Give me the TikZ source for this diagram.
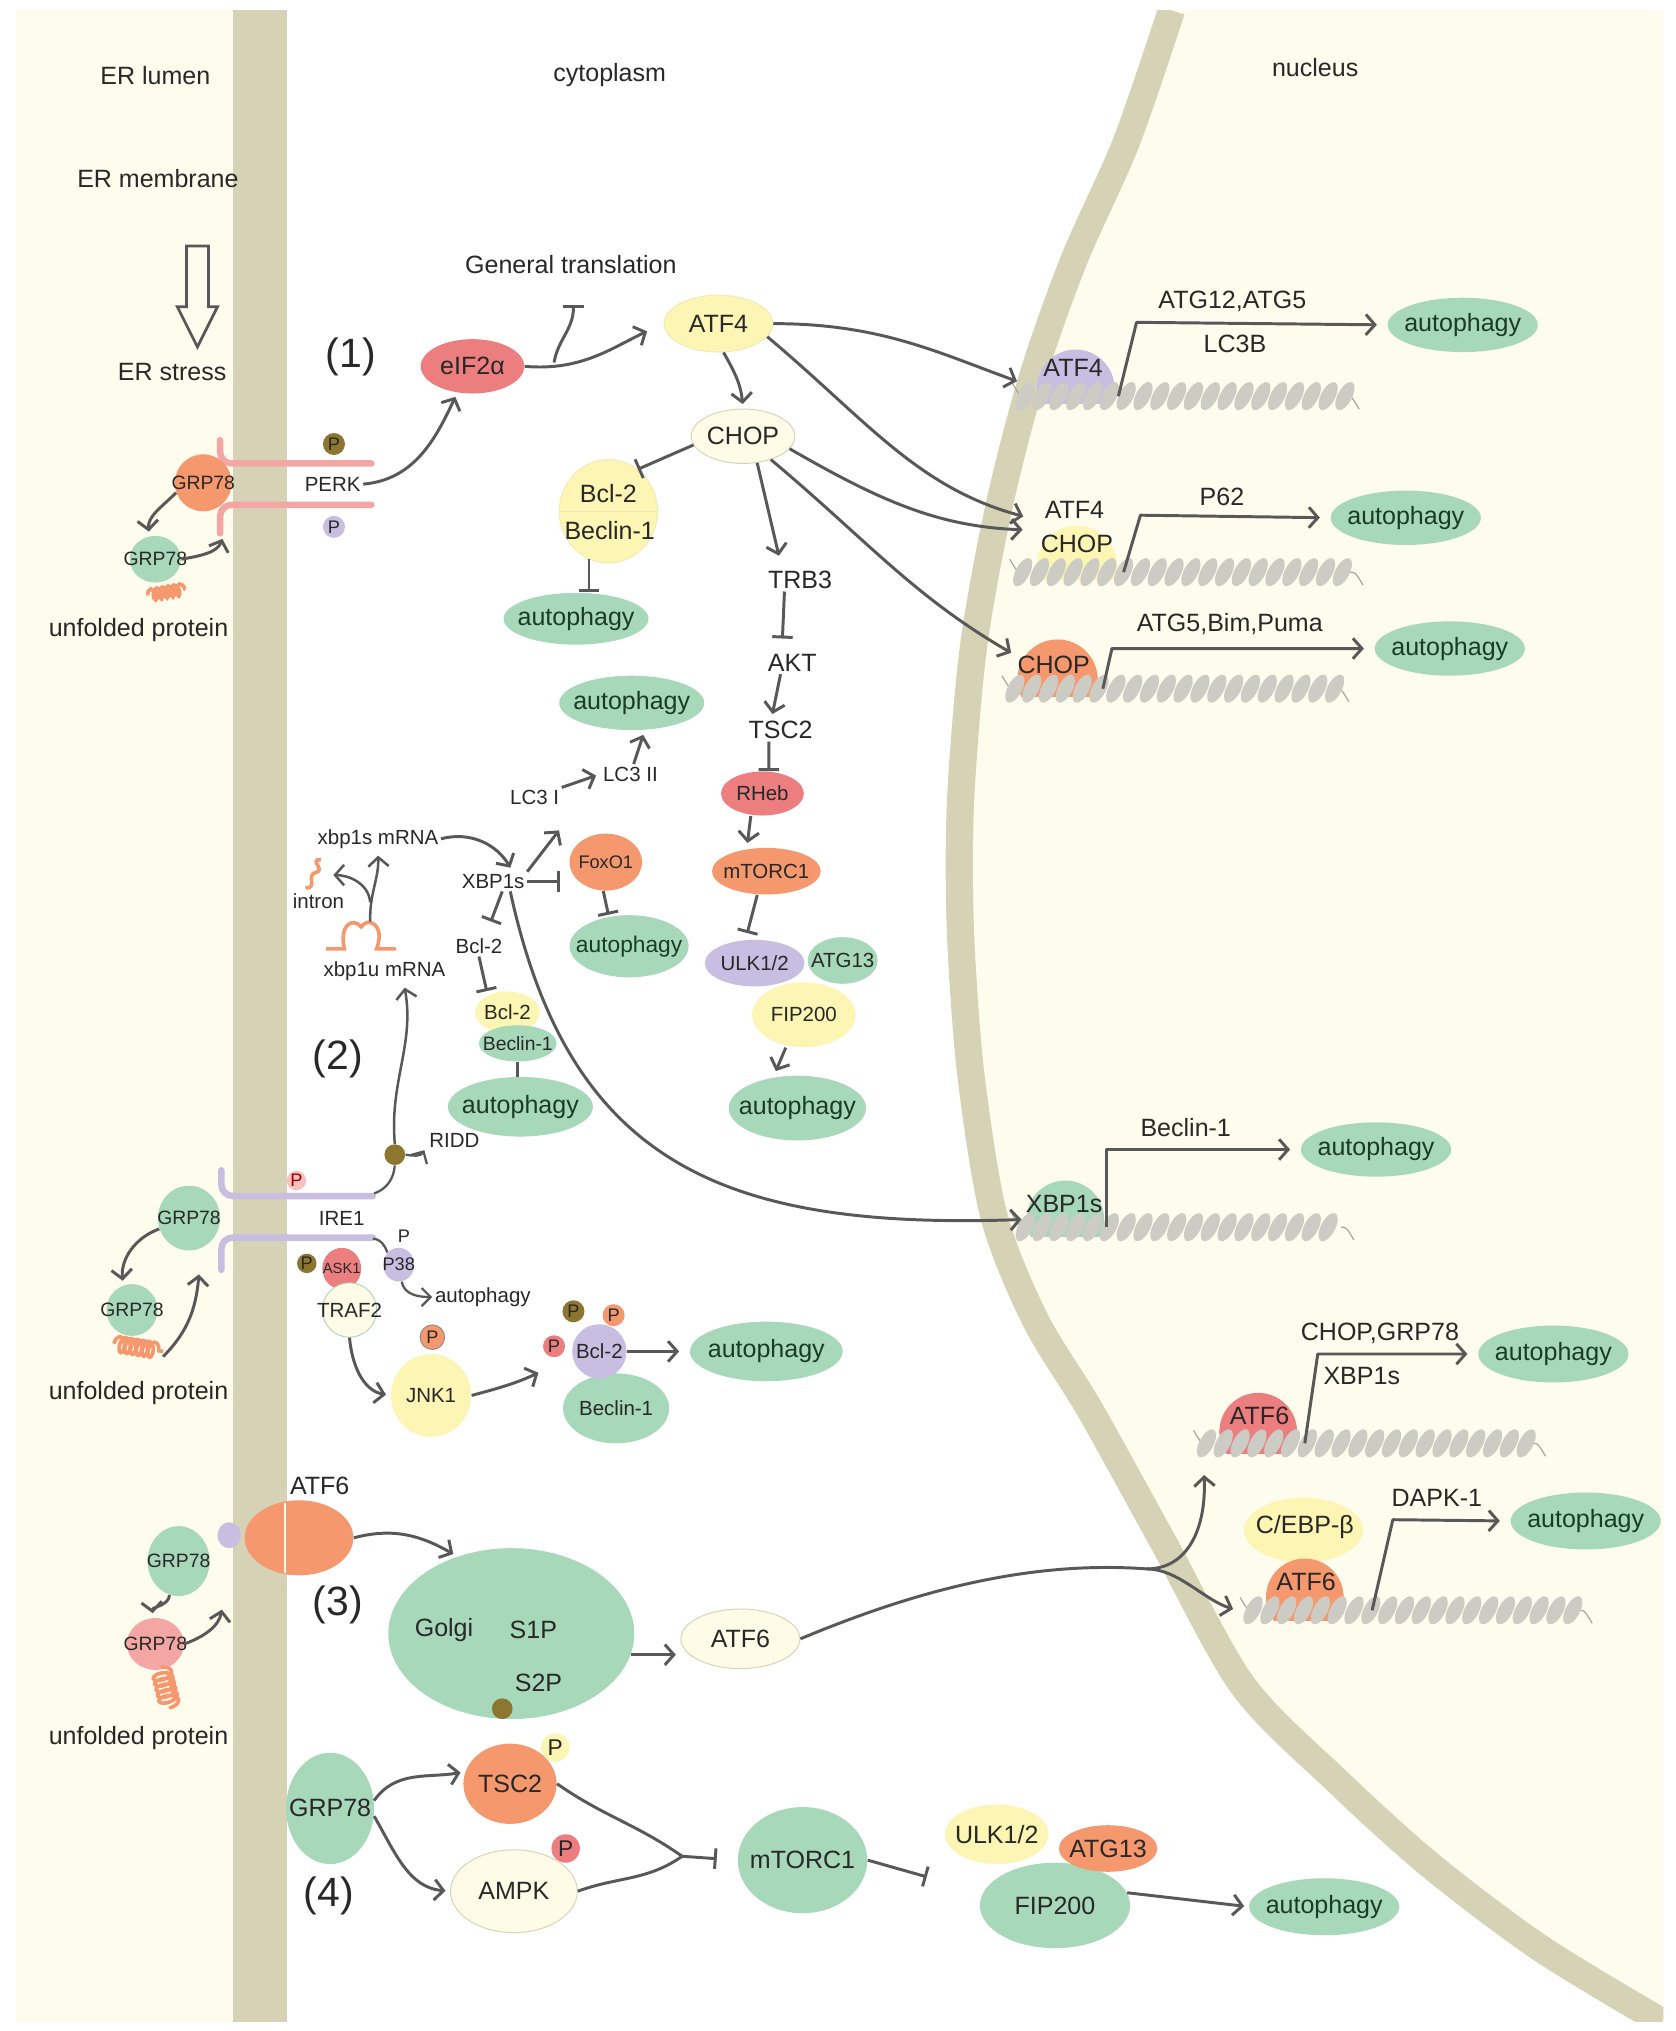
\documentclass[tikz,border=0pt]{standalone}
\usepackage{fontspec}
\setmainfont{Liberation Sans}
\usetikzlibrary{arrows.meta,positioning,decorations.pathmorphing,shapes.geometric}

\definecolor{lumen}{RGB}{254,252,236}
\definecolor{membr}{RGB}{214,210,182}
\definecolor{mint}{RGB}{168,216,186}
\definecolor{salmon}{RGB}{245,152,110}
\definecolor{rose}{RGB}{236,126,128}
\definecolor{blush}{RGB}{244,166,164}
\definecolor{lemon}{RGB}{253,245,180}
\definecolor{creamy}{RGB}{254,251,230}
\definecolor{lilac}{RGB}{200,190,226}
\definecolor{olivep}{RGB}{140,118,48}
\definecolor{ink}{RGB}{88,88,88}
\definecolor{txt}{RGB}{40,40,40}
\definecolor{leaf}{RGB}{25,60,38}
\definecolor{dna}{RGB}{204,203,196}

\newcommand{\fsz}[1]{\fontsize{#1}{#1}\selectfont}
% one strand of DNA: first x, last x, y
\newcommand{\dnarow}[3]{%
  \draw[dna!80!black, line width=0.5pt] (#1-10,#3-10) .. controls (#1-4,#3) .. (#1,#3) (#2,#3) .. controls (#2+4,#3) .. (#2+10,#3+10);
  \foreach \xx in {#1,...,#2}{%
    \pgfmathparse{mod(\xx-#1,13)==0}%
    \ifnum\pgfmathresult=1 \fill[dna] (\xx,#3) ellipse [x radius=0.11cm, y radius=0.24cm, rotate=-28];\fi}%
}

\tikzset{
  lbl/.style={font=\fsz{11}, text=txt, inner sep=1pt},
  sml/.style={font=\fsz{9}, text=txt, inner sep=1pt},
  num/.style={font=\fsz{18}, text=txt},
  wh/.style 2 args={minimum width=#1*0.02cm, minimum height=#2*0.02cm},
  blob/.style={ellipse, inner sep=-6pt, font=\fsz{9}, text=txt},
  autoph/.style={blob, fill=mint, font=\fsz{11}, text=leaf},
  pdot/.style={circle, inner sep=0pt, minimum size=0.34cm, font=\fsz{8}, text=txt},
  arr/.style={draw=ink, line width=1.3pt, shorten >=2pt, -{Straight Barb[length=4pt,width=9pt]}},
  arrs/.style={draw=ink, line width=1pt, -{Straight Barb[length=4pt,width=8pt]}},
  inh/.style={draw=ink, line width=1.3pt, -{Bar[width=9pt]}},
  link/.style={draw=ink, line width=1.3pt},
  prom/.style={arr, shorten >=0.16cm, line join=round},
  unf/.style={draw=salmon, line width=1.6pt},
  curl/.style={unf, decorate, decoration={coil, amplitude=#1, segment length=0.09cm}},
  recep/.style={line width=0.1cm, line cap=round},
}

\begin{document}
\begin{tikzpicture}[x=0.02cm,y=-0.02cm]
\useasboundingbox (0,0) rectangle (1294,1569);
\fill[white] (0,0) rectangle (1294,1569);

% compartments
\begin{scope}
  \clip (12,8) rectangle (1285,1562);
  \fill[lumen] (12,8) rectangle (180,1562);
  \fill[membr] (180,8) rectangle (222,1562);
  \fill[lumen] plot[smooth] coordinates {(905,8) (870,110) (830,200) (798,290) (772,390) (752,500) (742,620) (742,720) (750,830) (768,940) (800,1020) (842,1089) (899,1192) (960,1302) (1032,1375) (1105,1441) (1190,1505) (1284,1562)} -- (1285,1562) -- (1285,8) -- cycle;
  \draw[membr, line width=0.42cm] plot[smooth] coordinates {(905,8) (870,110) (830,200) (798,290) (772,390) (752,500) (742,620) (742,720) (750,830) (768,940) (800,1020) (842,1089) (899,1192) (960,1302) (1032,1375) (1105,1441) (1190,1505) (1284,1562)};
\end{scope}

\node[lbl] (lumenl) at (120,58) {ER lumen};
\node[lbl] (cytol) at (471,58) {cytoplasm};
\node[lbl] (nucl) at (1016,52) {nucleus};
\node[lbl] (ermem) at (122,138) {ER membrane};
\node[lbl] (erstr) at (133,287) {ER stress};
\draw[ink, line width=1.2pt] (144,190) -- (161,190) -- (161,237) -- (168,237)
      -- (152.5,268) -- (137,237) -- (144,237) -- cycle;

% (1) PERK
\node[num] (n1) at (271,276) {(1)};
\draw[recep, draw=blush] (170,340) -- (170,349) to[out=-90,in=180] (179,358) -- (287,358);
\draw[recep, draw=blush] (287,390) -- (179,390) to[out=180,in=90] (170,399) -- (170,412);
\node[sml] (perk) at (257,374) {PERK};
\node[pdot, fill=olivep] (perkp1) at (258,343) {P};
\node[pdot, fill=lilac] (perkp2) at (258,407) {P};
\node[blob, fill=salmon, wh={44}{44}, font=\fsz{8.5}] (g1a) at (157,373) {GRP78};
\node[blob, fill=mint, wh={36}{36}, font=\fsz{8.5}] (g1b) at (120,432) {GRP78};
\coordinate (perkin) at (173,413);
\draw[curl=0.09cm] (114,460) -- (143,455);
\node[lbl] (unf1l) at (107,487) {unfolded protein};
\draw[arr] (g1a.200) to[out=225,in=95] (g1b.105);
\draw[arr] (g1b.east) to[out=10,in=-110] (perkin);

\node[blob, fill=rose, wh={80}{42}, font=\fsz{11}] (eif) at (365,283) {eIF2α};
\draw[arr] (perk.east) to[out=5,in=-115] (eif.240);
\node[lbl] (gentr) at (441,204) {General translation};
\node[blob, fill=lemon, draw=lemon!70!membr, wh={84}{44}, font=\fsz{11}] (atf4) at (555,250) {ATF4};
\draw[arr, shorten >=8pt] (eif.east) to[out=-5,in=205] (atf4.west);
\coordinate (eifmid) at (428,280);
\coordinate (gtbar) at (443,236);
\draw[inh] (eifmid) to[out=80,in=-90] (gtbar);

\node[blob, fill=creamy, draw=membr, wh={80}{42}, font=\fsz{11}] (chop) at (574,337) {CHOP};
\draw[arr] (atf4.-80) to[out=-60,in=95] (chop.north);
\node[blob, fill=lemon, draw=lemon!70!membr, wh={76}{80}] (bcl1) at (470,395) {};
\draw[lemon!60!membr] (bcl1.west) -- (bcl1.east);
\node[lbl] (bcl1t) at (470,381) {Bcl-2};
\node[lbl] (becl1t) at (471,410) {Beclin-1};
\draw[inh] (chop.190) -- (bcl1.55);
\node[autoph, wh={112}{40}] (aut1) at (445,478) {autophagy};
\draw[inh] (bcl1.-112) -- (bcl1.-112 |- aut1.north);

\node[lbl] (trb3) at (618,448) {TRB3};
\draw[arr, shorten >=0.2cm] (chop.-62) -- ([xshift=-0.28cm]trb3.north);
\node[lbl] (akt) at (612,512) {AKT};
\draw[inh, shorten >=0.2cm] ([xshift=-0.24cm]trb3.south) -- ([xshift=-0.16cm]akt.north);
\node[lbl] (tsc2a) at (603,564) {TSC2};
\draw[arr] ([xshift=-0.18cm]akt.south) -- ([xshift=-0.14cm]tsc2a.north);
\node[blob, fill=rose, wh={64}{34}] (rheb) at (589,613) {RHeb};
\draw[inh] ([xshift=-0.18cm]tsc2a.south) -- ([xshift=0.1cm]rheb.north);
\node[blob, fill=salmon, wh={84}{36}] (mtor1) at (592,673) {mTORC1};
\draw[arr] ([xshift=-0.18cm]rheb.south) -- ([xshift=-0.3cm]mtor1.north);
\node[blob, fill=lemon, wh={80}{50}] (fip1) at (621,784) {FIP200};
\node[blob, fill=lilac, wh={77}{36}] (ulk1) at (583,744) {ULK1/2};
\node[blob, fill=mint, wh={54}{36}] (atg13a) at (651,742) {ATG13};
\draw[inh, shorten >=0.1cm] ([xshift=-0.14cm]mtor1.south) -- ([xshift=-0.14cm]ulk1.north);
\node[autoph, wh={106}{50}] (aut2) at (616,856) {autophagy};
\draw[arr] ([xshift=-0.28cm]fip1.south) -- ([xshift=-0.36cm]aut2.north);

% nucleus, PERK targets
\begin{scope}
  \clip (760,200) rectangle (900,312);
  \node[blob, fill=lilac, wh={60}{60}] (tf1) at (831,300) {};
\end{scope}
\node[lbl] (tf1t) at (829,284) {ATF4};
\dnarow{792}{1040}{306}
\node[autoph, wh={116}{42}] (an1) at (1130,251) {autophagy};
\node[lbl] (gl1) at (952,233) {ATG12,ATG5};
\node[lbl] (gl1b) at (954,266) {LC3B};
\coordinate (pr1) at (864,306);
\draw[prom] (pr1) -- ++(14,-57) -- (an1.west);

\begin{scope}
  \clip (760,380) rectangle (900,448);
  \node[blob, fill=lemon, wh={62}{62}] (tf2) at (832,437) {};
\end{scope}
\node[lbl] (tf2a) at (830,394) {ATF4};
\node[lbl] (tf2t) at (832,420) {CHOP};
\dnarow{790}{1043}{442}
\node[autoph, wh={116}{42}] (an2) at (1086,400) {autophagy};
\node[lbl] (gl2) at (944,384) {P62};
\coordinate (pr2) at (868,442);
\draw[prom] (pr2) -- ++(13,-44) -- (an2.west);

\begin{scope}
  \clip (740,480) rectangle (900,538);
  \node[blob, fill=salmon, wh={62}{62}] (tf3) at (817,525) {};
\end{scope}
\node[lbl] (tf3t) at (814,514) {CHOP};
\dnarow{784}{1032}{532}
\node[autoph, wh={116}{42}] (an3) at (1120,501) {autophagy};
\node[lbl] (gl3) at (950,482) {ATG5,Bim,Puma};
\coordinate (pr3) at (852,532);
\draw[prom] (pr3) -- ++(7,-31) -- (an3.west);

\draw[arr, shorten >=0.32cm] (atf4.east) to[out=0,in=160] (tf1.west);
\draw[arr, shorten >=0.3cm] (atf4.-15) to[out=-40,in=165] (tf2a.south west);
\draw[arr, shorten >=0.3cm] (chop.-15) to[out=-30,in=178] ([yshift=-0.14cm]tf2a.south west);
\draw[arr, shorten >=0.2cm] (chop.-40) to[out=-40,in=150] (tf3.150);

% (2) IRE1
\node[num] (n2) at (261,818) {(2)};
\draw[recep, draw=lilac] (171,904) -- (171,915) to[out=-90,in=180] (180,924) -- (288,924);
\draw[recep, draw=lilac] (288,956) -- (180,956) to[out=180,in=90] (171,965) -- (171,981);
\node[sml] (ire1) at (264,941) {IRE1};
\node[pdot, fill=blush!70, text=red!60!black, minimum size=0.3cm] (irep) at (229,912) {P};
\node[circle, fill=olivep, minimum size=0.32cm, inner sep=0pt] (olv) at (305,892) {};
\coordinate (ireup) at (289,922);
\draw[link, line width=1pt] (ireup) to[out=20,in=-95] (olv.south);
\node[sml] (ridd) at (351,881) {RIDD};
\draw[arrs] (olv.east) to[out=-10,in=-120] ([xshift=-1pt]ridd.south west);
\node[sml] (xbpu) at (297,750) {xbp1u mRNA};
\draw[arr, line width=1.1pt] (olv.north) to[out=95,in=-80] ([xshift=0.3cm]xbpu.south);
\draw[unf] (252,733) -- (266,733) .. controls (262,715) and (272,708) .. (279,716)
      .. controls (284,708) and (298,714) .. (291,733) -- (306,733);
\coordinate (mrna) at (286,712);
\node[sml] (xbps) at (292,648) {xbp1s mRNA};
\draw[arr, line width=1.1pt] (mrna) to[out=92,in=-88] (xbps.south);
\node[sml] (intron) at (246,696) {intron};
\draw[unf] (236,686) .. controls (246,686) and (236,676) .. (244,674)
      .. controls (252,672) and (238,664) .. (248,664);
\coordinate (intr) at (254,676);
\draw[arr, line width=1.1pt] ([yshift=0.3cm]mrna) to[out=95,in=0] (intr);

\node[sml] (xbp1) at (381,681) {XBP1s};
\draw[arr] (xbps.east) to[out=15,in=120] ([xshift=0.3cm]xbp1.north);
\node[sml] (lc3a) at (413,616) {LC3 I};
\node[sml] (lc3b) at (487,598) {LC3 II};
\draw[arr] (xbp1.north east) -- ([yshift=-0.3cm]lc3a.south east);
\draw[arr] (lc3a.north east) -- (lc3b.west);
\node[autoph, wh={112}{42}] (aut3) at (488,543) {autophagy};
\draw[arr] ([xshift=0.05cm]lc3b.north) -- ([xshift=0.2cm]aut3.south);
\node[blob, fill=salmon, wh={56}{44}, font=\fsz{8}] (foxo) at (468,666) {FoxO1};
\draw[inh, shorten >=0.14cm] (xbp1.east) -- (foxo.west |- xbp1.east);
\node[autoph, wh={92}{48}, font=\fsz{10}] (aut4) at (486,731) {autophagy};
\draw[inh] (foxo.-95) -- ([xshift=-0.32cm]aut4.north);
\node[sml] (bcl2t) at (370,731) {Bcl-2};
\draw[inh, shorten >=0.24cm] ([xshift=0.14cm]xbp1.south) -- ([xshift=0.1cm]bcl2t.north);
\node[blob, fill=lemon, wh={50}{32}] (bcl2b) at (392,782) {Bcl-2};
\draw[inh] (bcl2t.south) -- ([xshift=-0.32cm]bcl2b.north);
\node[blob, fill=mint, wh={60}{28}, font=\fsz{8.5}] (becl2) at (400,806) {Beclin-1};
\node[autoph, wh={112}{46}] (aut5) at (402,855) {autophagy};
\draw[link] (becl2.south) -- (aut5.north -| becl2.south);

\begin{scope}
  \clip (760,880) rectangle (900,955);
  \node[blob, fill=mint, wh={60}{60}] (tf4) at (823,942) {};
\end{scope}
\node[lbl] (tf4t) at (822,930) {XBP1s};
\dnarow{792}{1036}{948}
\node[autoph, wh={116}{42}] (an4) at (1063,888) {autophagy};
\node[lbl] (gl4) at (916,871) {Beclin-1};
\coordinate (pr4) at (855,948);
\draw[prom] (pr4) -- ++(0,-60) -- (an4.west);
\draw[arr] (xbp1.-30) .. controls (440,900) and (560,950) .. (tf4.west);

\node[blob, fill=mint, wh={48}{50}, font=\fsz{8.5}] (g2a) at (146,941) {GRP78};
\node[blob, fill=mint, wh={38}{40}, font=\fsz{8.5}] (g2b) at (102,1012) {GRP78};
\draw[arr] (g2a.200) to[out=200,in=95] (g2b.110);
\draw[curl=0.12cm] (88,1038) -- (126,1044);
\coordinate (unf2) at (126,1048);
\coordinate (irein) at (154,981);
\draw[arr] (unf2) to[out=45,in=-95] (irein);
\node[lbl] (unf2l) at (107,1076) {unfolded protein};

\node[blob, fill=rose, wh={30}{32}, font=\fsz{6.5}] (ask1) at (264,980) {ASK1};
\node[pdot, fill=olivep, minimum size=0.3cm] (askp) at (237,976) {P};
\node[blob, fill=lilac, wh={24}{26}, font=\fsz{8}] (p38) at (308,977) {P38};
\node[sml, font=\fsz{8}] (p38p) at (312,955) {P};
\coordinate (irelow) at (288,957);
\draw[link, line width=1pt] (irelow) to[out=0,in=110] (p38.north west);
\node[sml] (autsm) at (373,1002) {autophagy};
\draw[arrs] (p38.-80) to[out=-80,in=180] (autsm.west);
\node[blob, fill=creamy, draw=mint, wh={42}{42}] (traf2) at (270,1012) {TRAF2};
\node[blob, fill=lemon, wh={62}{64}] (jnk1) at (333,1078) {JNK1};
\node[pdot, fill=salmon, draw=ink!70, minimum size=0.38cm] (jnkp) at (334,1033) {P};
\draw[arr] (traf2.south) to[out=-85,in=170] (jnk1.west);
\node[blob, fill=mint, wh={82}{54}] (becl3) at (476,1088) {Beclin-1};
\node[blob, fill=lilac, wh={42}{42}] (bcl3) at (463,1044) {Bcl-2};
\node[pdot, fill=olivep] (bp1) at (443,1013) {P};
\node[pdot, fill=salmon] (bp2) at (474,1016) {P};
\node[pdot, fill=rose] (bp3) at (428,1040) {P};
\draw[arr] (jnk1.east) to[out=15,in=205] ([shift={(-0.45cm,-0.3cm)}]bcl3.west);
\node[autoph, wh={118}{46}] (aut6) at (592,1044) {autophagy};
\draw[arr, shorten >=0.16cm] (bcl3.east) -- (aut6.west);

% (3) ATF6
\node[num] (n3) at (261,1240) {(3)};
\node[blob, fill=salmon, wh={84}{58}] (atf6m) at (231,1188) {};
\draw[lumen, line width=0.8pt] (220,1161) -- (220,1215);
\node[lbl] (atf6l) at (247,1148) {ATF6};
\node[blob, fill=lilac, wh={18}{20}] (lil3) at (177,1186) {};
\node[blob, fill=mint, wh={48}{54}, font=\fsz{8.5}] (g3a) at (138,1206) {GRP78};
\node[blob, fill=blush, wh={44}{40}, font=\fsz{8.5}] (g3b) at (120,1270) {GRP78};
\draw[arr] (g3a.-105) to[out=-95,in=95] (g3b.95);
\coordinate (atf6in) at (172,1240);
\draw[arr] (g3b.east) to[out=20,in=-100] (atf6in);
\draw[curl=0.15cm] (124,1288) -- (132,1320);
\node[lbl] (unf3l) at (107,1343) {unfolded protein};
\node[blob, fill=mint, wh={190}{132}] (golgi) at (395,1262) {};
\node[lbl] (golgil) at (343,1259) {Golgi};
\node[lbl] (s1p) at (412,1259) {S1P};
\node[lbl] (s2p) at (416,1300) {S2P};
\node[circle, fill=olivep, minimum size=0.32cm, inner sep=0pt] (gdot) at (388,1320) {};
\draw[arr] (atf6m.east) to[out=15,in=150] (golgi.125);
\node[blob, fill=creamy, draw=membr, wh={92}{46}, font=\fsz{11}] (atf6c) at (572,1266) {ATF6};
\draw[arr] (golgi.-10) -- (atf6c.west |- golgi.-10);

\begin{scope}
  \clip (900,1040) rectangle (1060,1123);
  \node[blob, fill=rose, wh={60}{60}] (tf5) at (972,1106) {};
\end{scope}
\node[lbl] (tf5t) at (973,1094) {ATF6};
\dnarow{932}{1184}{1115}
\node[autoph, wh={116}{44}] (an5) at (1200,1046) {autophagy};
\node[lbl] (gl5) at (1066,1030) {CHOP,GRP78};
\node[lbl] (gl5b) at (1052,1063) {XBP1s};
\coordinate (pr5) at (1008,1115);
\draw[prom] (pr5) -- ++(10,-69) -- (an5.west);

\node[blob, fill=lemon, wh={92}{50}] (tf6a) at (1007,1182) {};
\begin{scope}
  \clip (900,1180) rectangle (1100,1252);
  \node[blob, fill=salmon, wh={60}{60}] (tf6b) at (1008,1234) {};
\end{scope}
\node[lbl] (tf6at) at (1008,1180) {C/EBP-β};
\node[lbl] (tf6bt) at (1009,1222) {ATF6};
\dnarow{968}{1220}{1244}
\node[autoph, wh={116}{44}] (an6) at (1225,1175) {autophagy};
\node[lbl] (gl6) at (1110,1157) {DAPK-1};
\coordinate (pr6) at (1060,1244);
\draw[prom] (pr6) -- ++(16,-70) -- (an6.west);

\coordinate (split) at (886,1212);
\coordinate (dna5in) at (930,1136);
\coordinate (dna6in) at (956,1244);
\draw[link] (atf6c.east) .. controls (700,1232) and (790,1205) .. (split);
\draw[arr] (split) .. controls (918,1212) and (932,1180) .. (dna5in);
\draw[arr] (split) .. controls (910,1212) and (930,1236) .. (dna6in);

% (4) GRP78 / AMPK
\node[num] (n4) at (254,1465) {(4)};
\node[blob, fill=mint, wh={68}{86}, font=\fsz{11}] (g4) at (255,1397) {GRP78};
\node[blob, fill=salmon, wh={72}{62}, font=\fsz{11}] (tsc2b) at (394,1378) {TSC2};
\node[pdot, fill=lemon, minimum size=0.44cm, font=\fsz{10}] (tscp) at (429,1350) {P};
\node[blob, fill=creamy, draw=membr, wh={98}{64}, font=\fsz{11}] (ampk) at (397,1461) {AMPK};
\node[pdot, fill=rose, minimum size=0.44cm, font=\fsz{10}] (ampkp) at (437,1428) {P};
\draw[arr] (g4.10) to[out=55,in=190] (tsc2b.165);
\draw[arr] (g4.-10) to[out=-60,in=175] (ampk.west);
\coordinate (merge) at (527,1434);
\draw[link] (tsc2b.east) to[out=-35,in=145] (merge);
\draw[link] (ampk.east) to[out=20,in=-145] (merge);
\node[blob, fill=mint, wh={100}{82}, font=\fsz{11}] (mtor2) at (620,1437) {mTORC1};
\draw[inh, shorten >=0.32cm] (merge) -- (mtor2.west);
\node[blob, fill=mint, wh={116}{66}, font=\fsz{11}] (fip2) at (815,1472) {FIP200};
\node[blob, fill=salmon, wh={76}{36}, font=\fsz{11}] (atg13b) at (856,1428) {ATG13};
\node[blob, fill=lemon, wh={80}{46}, font=\fsz{11}] (ulk2) at (770,1417) {ULK1/2};
\draw[inh, shorten >=0.9cm] (mtor2.east) -- (fip2.170);
\node[autoph, wh={116}{44}] (aut7) at (1023,1473) {autophagy};
\draw[arr] (fip2.10) -- (aut7.west);
\end{tikzpicture}
\end{document}
